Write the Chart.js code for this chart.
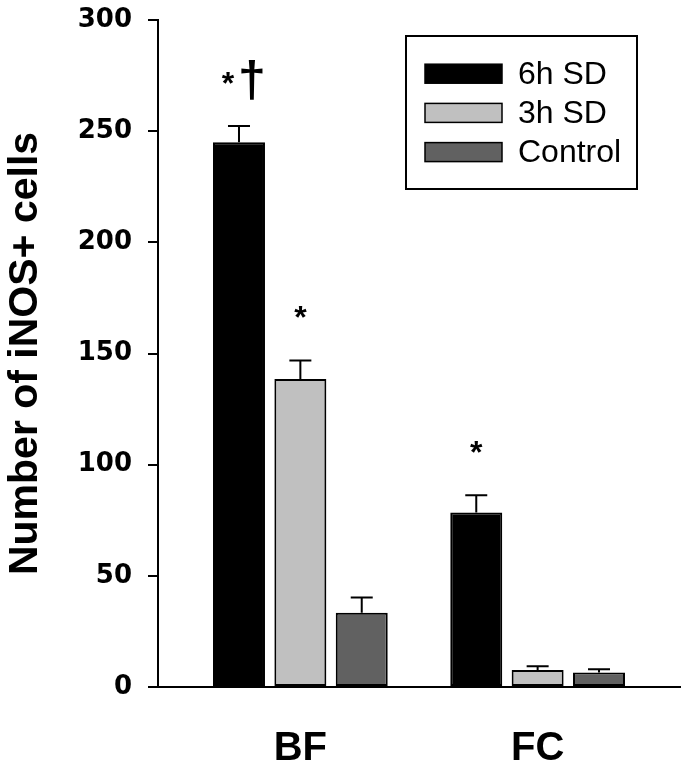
<!DOCTYPE html>
<html>
<head>
<meta charset="utf-8">
<script src="https://cdn.jsdelivr.net/npm/chart.js@4.4.1/dist/chart.umd.min.js"></script>
<style>
  html, body { margin: 0; padding: 0; background: #fff; }
  #wrap { width: 689px; height: 763px; }
</style>
</head>
<body>
<div id="wrap"><canvas id="chart" width="689" height="763"></canvas></div>
<script>
'use strict';

/* ── Data ─────────────────────────────────────────────────────────── */
const regions      = ['BF', 'FC'];
const seriesLabels = ['6h SD', '3h SD', 'Control'];
const yTicks       = [0, 50, 100, 150, 200, 250, 300];

const sd6h     = [245.0, 78.5];
const sd3h     = [138.5, 7.6];
const control  = [33.4, 6.5];

const sd6hErr    = [7.3, 7.7];
const sd3hErr    = [8.4, 1.7];
const controlErr = [6.8, 1.5];

const sd6hMarks    = ['*†', '*'];
const sd3hMarks    = ['*', ''];
const controlMarks = ['', ''];

/* ── Styles ───────────────────────────────────────────────────────── */
const COLORS = ['#000000', '#c0c0c0', '#616161'];
const BOLD   = 'bold 32px "Liberation Sans", Arial, sans-serif';

const toPoints = vals => vals.map((v, i) => ({ x: i + 1, y: v }));

const datasets = [
  { label: seriesLabels[0], data: toPoints(sd6h),    err: sd6hErr,    marks: sd6hMarks },
  { label: seriesLabels[1], data: toPoints(sd3h),    err: sd3hErr,    marks: sd3hMarks },
  { label: seriesLabels[2], data: toPoints(control), err: controlErr, marks: controlMarks },
].map((d, i) => Object.assign(d, {
  backgroundColor: COLORS[i],
  borderColor:     '#000',
  borderWidth:     2,
  borderSkipped:   false,
}));

/* ── Error bars + significance marks ──────────────────────────────── */
const errorBars = {
  id: 'errorBars',
  afterDatasetsDraw(chart) {
    const { ctx, scales: { y } } = chart;
    ctx.save();
    ctx.strokeStyle = '#000';
    ctx.fillStyle   = '#000';
    ctx.lineWidth   = 2;
    chart.data.datasets.forEach((ds, di) => {
      chart.getDatasetMeta(di).data.forEach((bar, i) => {
        const top = y.getPixelForValue(ds.data[i].y + ds.err[i]);
        ctx.beginPath();
        ctx.moveTo(bar.x, bar.y);
        ctx.lineTo(bar.x, top);
        ctx.moveTo(bar.x - 11, top);
        ctx.lineTo(bar.x + 11, top);
        ctx.stroke();

        const mark = ds.marks[i];
        if (!mark) return;
        ctx.textBaseline = 'alphabetic';
        ctx.textAlign    = 'center';
        ctx.font = BOLD;
        if (mark.length > 1) {
          ctx.fillText('*', bar.x - 11, top - 32);
          ctx.font = 'bold 50px "Liberation Sans", Arial, sans-serif';
          ctx.fillText(mark.slice(1), bar.x + 13, top - 30);
        } else {
          ctx.fillText(mark, bar.x, top - 32);
        }
      });
    });
    ctx.restore();
  },
};

/* ── Boxed legend (top right) ─────────────────────────────────────── */
const boxLegend = {
  id: 'boxLegend',
  afterDraw(chart) {
    const { ctx } = chart;
    ctx.save();
    ctx.strokeStyle = '#000';
    ctx.lineWidth = 2;
    ctx.strokeRect(406, 36, 231, 153);
    ctx.font = '32px "Liberation Sans", Arial, sans-serif';
    ctx.textBaseline = 'middle';
    ctx.textAlign = 'left';
    chart.data.datasets.forEach((ds, i) => {
      const cy = 73.7 + i * 39.2;
      ctx.fillStyle = ds.backgroundColor;
      ctx.fillRect(425, cy - 9.5, 77, 19);
      ctx.lineWidth = 1.5;
      ctx.strokeRect(425, cy - 9.5, 77, 19);
      ctx.fillStyle = '#000';
      ctx.fillText(ds.label, 518, cy + 1);
    });
    ctx.restore();
  },
};

/* ── Chart ────────────────────────────────────────────────────────── */
new Chart(document.getElementById('chart'), {
  type: 'bar',
  data: { datasets },
  plugins: [errorBars, boxLegend],
  options: {
    responsive: false,
    animation:  false,
    layout: { padding: { top: 20, right: 9, left: 0, bottom: 0 } },
    plugins: {
      legend:  { display: false },
      tooltip: { enabled: false },
    },
    datasets: {
      bar: { categoryPercentage: 0.776, barPercentage: 0.847 },
    },
    scales: {
      x: {
        type: 'linear',
        min: 0.4,
        max: 2.6,
        offset: false,
        afterBuildTicks: s => { s.ticks = regions.map((_, i) => ({ value: i + 1 })); },
        afterFit: s => { s.height = 76; },
        grid:   { display: false, offset: false },
        border: { display: true, color: '#000', width: 2 },
        ticks: {
          autoSkip: false,
          maxRotation: 0,
          padding: 30,
          color: '#000',
          font: { family: '"Liberation Sans", Arial, sans-serif', weight: 'bold', size: 40 },
          callback: (v, i) => regions[i],
        },
      },
      y: {
        min: 0,
        max: 300,
        afterBuildTicks: s => { s.ticks = yTicks.map(v => ({ value: v })); },
        afterFit: s => { s.width = 158; s.paddingTop = 0; },
        grid: {
          drawOnChartArea: false,
          tickLength: 10,
          color: '#000',
          lineWidth: 2,
        },
        border: { display: true, color: '#000', width: 2 },
        ticks: {
          padding: 16,
          color: '#000',
          font: { family: '"DejaVu Sans", sans-serif', weight: 'bold', size: 26 },
        },
        title: {
          display: true,
          text: 'Number of iNOS+ cells',
          color: '#000',
          font: { family: '"Liberation Sans", Arial, sans-serif', weight: 'bold', size: 41 },
          padding: { top: 1, bottom: 0 },
        },
      },
    },
  },
});
</script>
</body>
</html>
